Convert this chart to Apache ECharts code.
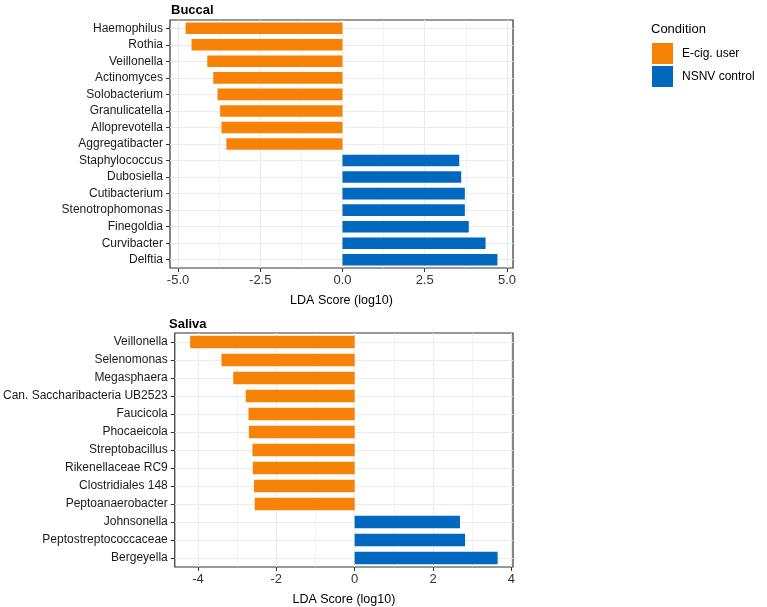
<!DOCTYPE html>
<html>
<head>
<meta charset="utf-8">
<script src="https://cdn.jsdelivr.net/npm/echarts@6/dist/echarts.min.js"></script>
<style>
html,body{margin:0;padding:0;background:#fff;}
#chart{width:767px;height:607px;}
</style>
</head>
<body>
<div id="chart"></div>
<script>
// ---- Data ----
const buccalCategories = ['Haemophilus','Rothia','Veillonella','Actinomyces','Solobacterium','Granulicatella','Alloprevotella','Aggregatibacter','Staphylococcus','Dubosiella','Cutibacterium','Stenotrophomonas','Finegoldia','Curvibacter','Delftia'];
const buccalEcig = [-4.77,-4.59,-4.11,-3.93,-3.80,-3.72,-3.68,-3.53,null,null,null,null,null,null,null];
const buccalControl = [null,null,null,null,null,null,null,null,3.55,3.61,3.72,3.72,3.84,4.35,4.71];
const buccalMajorTicks = [-5.0,-2.5,0.0,2.5,5.0];
const buccalMinorTicks = [-3.75,-1.25,1.25,3.75];
const buccalTickLabels = ['-5.0','-2.5','0.0','2.5','5.0'];

const salivaCategories = ['Veillonella','Selenomonas','Megasphaera','Can. Saccharibacteria UB2523','Faucicola','Phocaeicola','Streptobacillus','Rikenellaceae RC9','Clostridiales 148','Peptoanaerobacter','Johnsonella','Peptostreptococcaceae','Bergeyella'];
const salivaEcig = [-4.20,-3.40,-3.10,-2.78,-2.71,-2.70,-2.61,-2.60,-2.57,-2.55,null,null,null];
const salivaControl = [null,null,null,null,null,null,null,null,null,null,2.69,2.82,3.65];
const salivaMajorTicks = [-4,-2,0,2,4];
const salivaMinorTicks = [-3,-1,1,3];
const salivaTickLabels = ['-4','-2','0','2','4'];

const groupNames = ['E-cig. user','NSNV control'];
const panelTitles = ['Buccal','Saliva'];
const axisTitle = 'LDA Score (log10)';

// ---- Styles ----
const ORANGE = '#F68207';
const BLUE = '#0068BF';
const GRID_COL = '#EBEBEB';
const FONT = 'Liberation Sans, Arial, sans-serif';

function expandedRange(a, b) {
  const vals = a.concat(b).filter(v => v !== null).concat([0]);
  const lo = Math.min(...vals), hi = Math.max(...vals);
  const pad = (hi - lo) * 0.05;
  return [lo - pad, hi + pad];
}
const buccalRange = expandedRange(buccalEcig, buccalControl);
const salivaRange = expandedRange(salivaEcig, salivaControl);

const grids = [
  {left: 170, width: 343, top: 20, height: 248},
  {left: 169, width: 344, top: 333, height: 234}
];

function xAxisFor(idx, range, ticks, labels) {
  return {
    type: 'value', gridIndex: idx, min: range[0], max: range[1],
    name: axisTitle, nameLocation: 'middle', nameGap: 26,
    nameTextStyle: {fontFamily: FONT, fontSize: 12.5, color: '#000'},
    axisLine: {show: false},
    axisTick: {show: true, customValues: ticks, length: 4, lineStyle: {color: '#333'}},
    axisLabel: {show: true, customValues: ticks, margin: 6, fontFamily: FONT, fontSize: 13, color: '#333',
      formatter: v => { const i = ticks.findIndex(t => Math.abs(t - v) < 1e-9); return i >= 0 ? labels[i] : ''; }},
    splitLine: {show: false}
  };
}
function yAxisFor(idx, cats) {
  return {
    type: 'category', gridIndex: idx, data: cats, inverse: true,
    axisLine: {show: false, onZero: false},
    axisTick: {show: true, alignWithLabel: true, length: 4, lineStyle: {color: '#333'}},
    axisLabel: {margin: 7, fontFamily: FONT, fontSize: 12, color: '#1a1a1a'},
    splitLine: {show: false}
  };
}
function gridLines(idx, cats, major, minor) {
  const data = []
    .concat(minor.map(v => ({xAxis: v, lineStyle: {color: GRID_COL, width: 0.6}})))
    .concat(major.map(v => ({xAxis: v, lineStyle: {color: GRID_COL, width: 1.1}})))
    .concat(cats.map(c => ({yAxis: c, lineStyle: {color: GRID_COL, width: 1.1}})));
  return {
    type: 'line', name: 'grid' + idx, xAxisIndex: idx, yAxisIndex: idx, data: [], z: 1,
    silent: true, showSymbol: false,
    markLine: {silent: true, z: 1, symbol: 'none', animation: false, label: {show: false},
      lineStyle: {type: 'solid'}, data: data}
  };
}
function bars(idx, name, vals, color) {
  return {
    type: 'bar', name: name, xAxisIndex: idx, yAxisIndex: idx, data: vals,
    stack: 'p' + idx, barWidth: '70%', z: 3,
    itemStyle: {color: color}, animation: false
  };
}

const option = {
  animation: false,
  backgroundColor: '#fff',
  title: [
    {text: panelTitles[0], left: 171, top: 4, padding: 0, textStyle: {fontFamily: FONT, fontSize: 13, fontWeight: 'bold', color: '#000'}},
    {text: panelTitles[1], left: 169, top: 318, padding: 0, textStyle: {fontFamily: FONT, fontSize: 13, fontWeight: 'bold', color: '#000'}},
    {text: 'Condition', left: 651, top: 23, padding: 0, textStyle: {fontFamily: FONT, fontSize: 13, fontWeight: 'normal', color: '#000'}}
  ],
  legend: {
    data: groupNames, orient: 'vertical', left: 652, top: 43, padding: 0,
    icon: 'rect', itemWidth: 21, itemHeight: 21, itemGap: 2,
    textStyle: {fontFamily: FONT, fontSize: 12, color: '#000', padding: [0,0,0,4]},
    selectedMode: false
  },
  grid: grids.map(g => Object.assign({show: true, borderColor: '#333', borderWidth: 1.2, backgroundColor: 'transparent', containLabel: false}, g)),
  xAxis: [
    xAxisFor(0, buccalRange, buccalMajorTicks, buccalTickLabels),
    xAxisFor(1, salivaRange, salivaMajorTicks, salivaTickLabels)
  ],
  yAxis: [
    yAxisFor(0, buccalCategories),
    yAxisFor(1, salivaCategories)
  ],
  series: [
    gridLines(0, buccalCategories, buccalMajorTicks, buccalMinorTicks),
    gridLines(1, salivaCategories, salivaMajorTicks, salivaMinorTicks),
    bars(0, groupNames[0], buccalEcig, ORANGE),
    bars(0, groupNames[1], buccalControl, BLUE),
    bars(1, groupNames[0], salivaEcig, ORANGE),
    bars(1, groupNames[1], salivaControl, BLUE)
  ]
};

const chart = echarts.init(document.getElementById('chart'), null, {renderer: 'canvas'});
chart.setOption(option);
</script>
</body>
</html>
